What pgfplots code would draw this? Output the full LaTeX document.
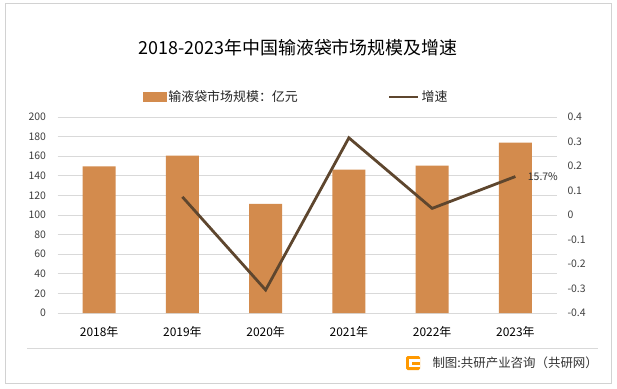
\documentclass[border=0pt]{standalone}
\usepackage{fontspec}
\setmainfont{Noto Sans CJK SC}
\usepackage{pgfplots}
\pgfplotsset{compat=1.18}
\definecolor{barc}{RGB}{211,139,77}
\definecolor{linec}{RGB}{94,70,46}
\definecolor{gridc}{RGB}{217,217,217}
\definecolor{framec}{RGB}{210,210,210}
\begin{document}
\begin{tikzpicture}[x=1bp,y=1bp]
\path[fill=white] (0,0) rectangle (617,388);
\draw[framec, line width=1bp] (5,5) rectangle (611,384);
\draw[gridc, line width=0.8bp] (27,40) -- (598,40);
% title
\node[font=\fontsize{18}{20}\selectfont, text=black] at (298,340) {2018-2023年中国输液袋市场规模及增速};
% footer logo
\begin{scope}[shift={(406,18)}]
\fill[orange!80!yellow, rounded corners=1.5bp] (0,0) rectangle (14,14);
\fill[white] (3,3) rectangle (14,5.5);
\fill[white] (3,3) rectangle (5.5,11);
\fill[white] (3,8.5) rectangle (14,11);
\fill[orange!80!yellow] (9,5.5) rectangle (11.5,8.5);
\end{scope}
\node[anchor=west, font=\fontsize{12.5}{14}\selectfont, text=black!80] at (429,25) {制图:共研产业咨询（共研网）};
\begin{axis}[
  at={(57.5bp,75bp)}, anchor=south west,
  scale only axis, width=499.5bp, height=196bp,
  xmin=-0.5, xmax=5.5, ymin=0, ymax=200,
  xtick={0,...,5},
  xticklabels={2018年,2019年,2020年,2021年,2022年,2023年},
  ytick={0,20,...,200},
  ymajorgrids, grid style={draw=gridc, line width=0.8bp},
  axis line style={draw=none}, major tick length=0pt,
  /pgf/number format/assume math mode=true,
  yticklabel style={font=\fontsize{10.5}{12}\selectfont, text=black!75, xshift=-8bp},
  xticklabel style={font=\fontsize{12}{14}\selectfont, text=black, yshift=-10bp},
  ybar, bar width=33bp,
]
\addplot[fill=barc, draw=none] coordinates {(0,149.5) (1,160.5) (2,111.3) (3,146.2) (4,150.3) (5,173.9)};
\end{axis}
\begin{axis}[
  at={(57.5bp,75bp)}, anchor=south west,
  scale only axis, width=499.5bp, height=196bp,
  xmin=-0.5, xmax=5.5, ymin=-0.4, ymax=0.4,
  axis x line=none, axis y line*=right,
  axis line style={draw=none}, major tick length=0pt,
  ytick={-0.4,-0.3,-0.2,-0.1,0,0.1,0.2,0.3,0.4},
  yticklabels={-0.4,-0.3,-0.2,-0.1,0,0.1,0.2,0.3,0.4},
  yticklabel style={font=\fontsize{10.5}{12}\selectfont, text=black!75, xshift=7bp},
  legend style={at={(0.478,1.102)}, anchor=center, draw=none, fill=none,
    font=\fontsize{13}{15}\selectfont, text=black!85,
    /tikz/every even column/.append style={column sep=88bp}},
  legend columns=2,
]
\addlegendimage{legend image code/.code={\fill[barc] (0bp,-4.5bp) rectangle (23bp,4.5bp);}}
\addlegendentry{输液袋市场规模：亿元}
\addplot[linec, line width=2.8bp, legend image code/.code={\draw[linec, line width=2.8bp] (0bp,0bp) -- (29bp,0bp);}]
  coordinates {(1,0.074) (2,-0.306) (3,0.315) (4,0.027) (5,0.157)};
\addlegendentry{增速}
\node[anchor=west, font=\fontsize{10.5}{12}\selectfont, text=black!80, xshift=9bp] at (axis cs:5,0.157) {15.7\%};
\end{axis}
\end{tikzpicture}
\end{document}
